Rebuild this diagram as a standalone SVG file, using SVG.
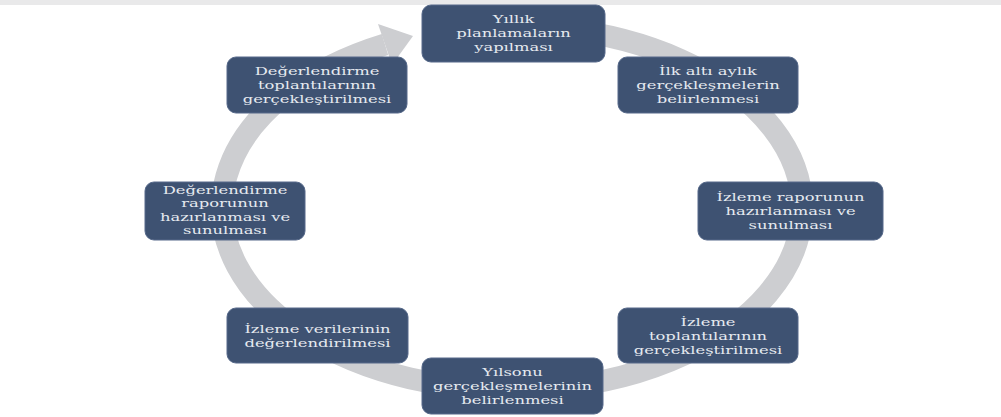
<svg xmlns="http://www.w3.org/2000/svg" width="1001" height="417" viewBox="0 0 1001 417">
<style>
.box{fill:#3e5272;stroke:#56698a;stroke-width:1}
.t{font-family:"DejaVu Serif","Liberation Serif",serif;font-size:11.5px;fill:#e6eaf0;text-anchor:middle}
</style>
<rect x="0" y="0" width="1001" height="417" fill="#ffffff"/>
<rect x="0" y="0" width="1001" height="5" fill="#e9e9ea"/>
<g id="connectors">
<path d="M 562.4 28.8 A 290 182 0 1 1 385 44.4" fill="none" stroke="#cdced1" stroke-width="22"/>
<polygon points="378,24 413,36 392,65" fill="#cdced1"/>
</g>
<g id="n1">
<rect class="box" x="422" y="5" width="183" height="57" rx="9"/>
<g transform="translate(513.5,0) scale(1.42,1)"><text class="t" x="0" y="23">Yıllık</text><text class="t" x="0" y="37">planlamaların</text><text class="t" x="0" y="51">yapılması</text></g>
</g>
<g id="n2">
<rect class="box" x="618" y="57" width="180" height="56" rx="9"/>
<g transform="translate(708,0) scale(1.42,1)"><text class="t" x="0" y="75">İlk altı aylık</text><text class="t" x="0" y="89">gerçekleşmelerin</text><text class="t" x="0" y="103">belirlenmesi</text></g>
</g>
<g id="n3">
<rect class="box" x="227" y="57" width="180" height="56" rx="9"/>
<g transform="translate(317,0) scale(1.42,1)"><text class="t" x="0" y="75">Değerlendirme</text><text class="t" x="0" y="89">toplantılarının</text><text class="t" x="0" y="103">gerçekleştirilmesi</text></g>
</g>
<g id="n4">
<rect class="box" x="698" y="182" width="185" height="58" rx="9"/>
<g transform="translate(790.5,0) scale(1.42,1)"><text class="t" x="0" y="201">İzleme raporunun</text><text class="t" x="0" y="215">hazırlanması ve</text><text class="t" x="0" y="229">sunulması</text></g>
</g>
<g id="n5">
<rect class="box" x="145" y="182" width="160" height="58" rx="9"/>
<g transform="translate(225,0) scale(1.42,1)"><text class="t" x="0" y="194">Değerlendirme</text><text class="t" x="0" y="207.5">raporunun</text><text class="t" x="0" y="221">hazırlanması ve</text><text class="t" x="0" y="234.5">sunulması</text></g>
</g>
<g id="n6">
<rect class="box" x="618" y="308" width="180" height="55" rx="9"/>
<g transform="translate(708,0) scale(1.42,1)"><text class="t" x="0" y="326">İzleme</text><text class="t" x="0" y="340">toplantılarının</text><text class="t" x="0" y="354">gerçekleştirilmesi</text></g>
</g>
<g id="n7">
<rect class="box" x="227" y="308" width="181" height="55" rx="9"/>
<g transform="translate(317.5,0) scale(1.42,1)"><text class="t" x="0" y="333">İzleme verilerinin</text><text class="t" x="0" y="347">değerlendirilmesi</text></g>
</g>
<g id="n8">
<rect class="box" x="422" y="358" width="181" height="56" rx="9"/>
<g transform="translate(512.5,0) scale(1.42,1)"><text class="t" x="0" y="376">Yılsonu</text><text class="t" x="0" y="390">gerçekleşmelerinin</text><text class="t" x="0" y="404">belirlenmesi</text></g>
</g>
</svg>
